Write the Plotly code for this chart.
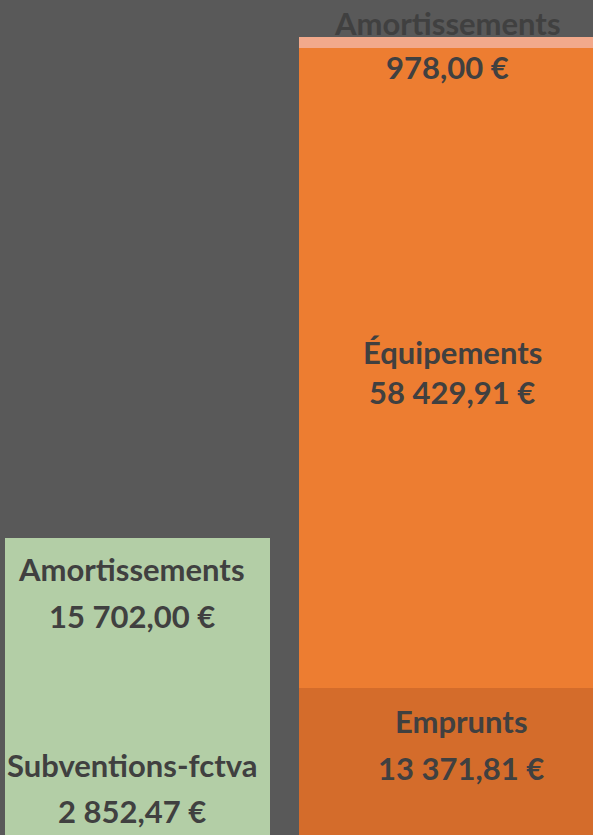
import plotly.graph_objects as go

# ---- data ----
left_categories = ["Subventions-fctva", "Amortissements"]
left_values = [2852.47, 15702.00]
right_categories = ["Emprunts", "Équipements", "Amortissements"]
right_values = [13371.81, 58429.91, 978.00]

# ---- style ----
BG = "#595959"
TEXT = "#404040"
left_colors = ["#b3cea6", "#b3cea6"]
right_colors = ["#d46c2b", "#ed7d31", "#f2a98b"]
FONT = dict(family="Lato", size=31, color=TEXT, weight="bold")

# per-label offsets (px): (name yshift, value yshift, xshift)
left_shifts = [(47, 1, -6), (95, 48, -6)]
right_shifts = [(41, -6, 11), (16, -24, 2), (19, -25, -3)]


def fmt(v):
    s = f"{v:,.2f}".replace(",", " ").replace(".", ",")
    return s + " €"


fig = go.Figure()
annotations = []


def add_stack(cats, vals, cols, shifts, xa, ya):
    cum = 0.0
    for cat, v, col, (s1, s2, xs) in zip(cats, vals, cols, shifts):
        fig.add_trace(go.Bar(x=[0], y=[v], width=1, name=cat,
                             marker=dict(color=col, line=dict(width=0)),
                             xaxis=xa, yaxis=ya, showlegend=False, hoverinfo="skip"))
        mid = cum + v / 2
        cum += v
        for txt, ys in ((cat, s1), (fmt(v), s2)):
            annotations.append(dict(x=0, y=mid, xref=xa, yref=ya, text=txt, showarrow=False,
                                    font=FONT, yanchor="middle", yshift=ys, xshift=xs))


add_stack(left_categories, left_values, left_colors, left_shifts, "x", "y")
add_stack(right_categories, right_values, right_colors, right_shifts, "x2", "y2")

W, H = 593, 835
axis_hidden = dict(showgrid=False, zeroline=False, showticklabels=False, showline=False, fixedrange=True)

fig.update_layout(
    width=W, height=H,
    margin=dict(l=0, r=0, t=0, b=0),
    paper_bgcolor=BG, plot_bgcolor=BG,
    barmode="stack",
    bargap=0,
    xaxis=dict(domain=[5 / W, 270 / W], range=[-0.5, 0.5], **axis_hidden),
    yaxis=dict(domain=[0, 1], range=[0, 52165], anchor="x", **axis_hidden),
    xaxis2=dict(domain=[299 / W, 1], range=[-0.5, 0.4735], anchor="y2", **axis_hidden),
    yaxis2=dict(domain=[0, 1], range=[0, 76154], anchor="x2", **axis_hidden),
    annotations=annotations,
)

fig.write_html("out.html", config={"displayModeBar": False},
               post_script="document.body.style.margin='0';document.body.style.background='#595959';")
